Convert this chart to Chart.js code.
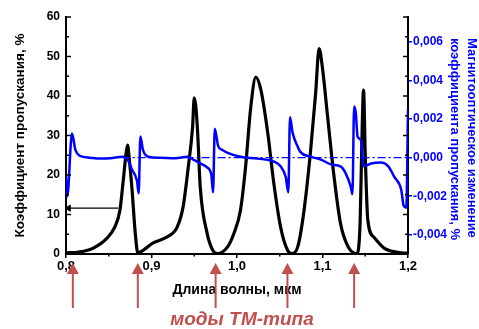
<!DOCTYPE html>
<html><head><meta charset="utf-8">
<script src="https://cdn.jsdelivr.net/npm/chart.js@4"></script>
<style>html,body{margin:0;padding:0;background:#fff;overflow:hidden}</style>
</head><body>
<canvas id="c" width="479" height="329" style="width:479px;height:329px;display:block"></canvas>
<script>
// Transmission (left axis, %)
const wavelengthT = [0.800,0.815,0.832,0.848,0.857,0.863,0.867,0.870,0.872,0.874,0.877,0.881,0.884,0.887,0.902,0.918,0.930,0.937,0.943,0.948,0.950,0.952,0.954,0.957,0.965,0.972,0.977,0.989,0.996,1.004,1.010,1.016,1.022,1.028,1.036,1.043,1.051,1.059,1.064,1.071,1.078,1.086,1.092,1.096,1.100,1.106,1.113,1.121,1.130,1.137,1.140,1.144,1.146,1.148,1.150,1.153,1.160,1.172,1.192,1.200];
const transmission = [0.3,0.5,1.5,4,6.8,11,18.7,25,27.6,24,17,5.3,0.3,0.5,2.8,4.3,6.8,12,22,32,39.5,37,30.6,17,5.3,0.8,0.1,1.8,5,11,22,37,44.8,41.5,30.6,18,6.8,1,0.1,1.8,10.4,26,40.8,52,47,34.7,20.5,7.8,1.8,0.2,0.1,8,28,41.5,25,8.6,4.3,1.5,0.3,0.2];
// Magneto-optical change (right axis)
const wavelengthMO = [0.800,0.8015,0.807,0.811,0.816,0.828,0.840,0.852,0.866,0.872,0.877,0.883,0.885,0.887,0.890,0.896,0.910,0.928,0.942,0.949,0.957,0.965,0.970,0.972,0.974,0.978,0.983,0.989,1.004,1.024,1.043,1.051,1.057,1.060,1.062,1.065,1.071,1.074,1.086,1.098,1.110,1.121,1.127,1.133,1.135,1.137,1.139,1.141,1.145,1.148,1.157,1.168,1.177,1.184,1.192,1.195,1.198,1.200];
const moChange = [-0.0010,-0.0020,0.00125,0.0004,0.0001,0.0000,-0.00005,-0.00003,0.00005,-0.0001,-0.0006,-0.0012,-0.00185,0.0011,0.0004,0.00005,0.0000,-0.00003,0.00005,-0.0001,-0.0003,-0.0005,-0.0009,-0.0018,0.0015,0.0006,0.0004,0.00025,0.00005,-0.00005,-0.0002,-0.00045,-0.0010,-0.0018,0.0021,0.0013,0.00057,0.0003,0.00005,-0.0001,-0.00035,-0.00045,-0.0008,-0.0015,-0.0019,0.00265,0.0023,0.0011,0.0009,-0.00045,-0.0003,-0.00025,-0.00045,-0.0010,-0.00165,-0.0025,-0.0026,0.0025];
// zero reference (dash-dot) and left pointer
const refLineWl = [0.865,1.200];
const refLineVal = [0,0];
const pointerWl = [0.803,0.861];
const pointerVal = [11.6,11.6];
// TM modes
const modeWavelengths = [0.808,0.884,0.975,1.059,1.137];
// ticks
const xTicks = [0.8,0.9,1.0,1.1,1.2];
const leftTicks = [0,10,20,30,40,50,60];
const rightTicks = [-0.004,-0.002,0,0.002,0.004,0.006];
const xTitle = 'Длина волны, мкм';
const leftTitle = 'Коэффициент пропускания, %';
const rightTitle = ['Магнитооптическое изменение','коэффициента пропускания, %'];
const modeLabel = 'моды ТМ-типа';

const pts = (xs, ys) => xs.map((v,i)=>({x:v,y:ys[i]}));
const FONT = '"Liberation Sans", Arial, sans-serif';
const BLUE = '#0000ff';
const RED = '#c0504d';

const decor = {
  id:'decor',
  afterDraw(chart){
    const {ctx, chartArea:a, scales:{x,y}} = chart;
    ctx.save();
    const line=(x1,y1,x2,y2)=>{ctx.beginPath();ctx.moveTo(x1,y1);ctx.lineTo(x2,y2);ctx.stroke();};
    ctx.strokeStyle='#000'; ctx.lineWidth=1.5;
    // inward ticks on left axis and right frame (major + minor)
    const yt=[];
    for(let i=0;i<leftTicks.length;i++){ yt.push([leftTicks[i],5]); if(i<leftTicks.length-1) yt.push([(leftTicks[i]+leftTicks[i+1])/2,3]); }
    yt.forEach(([v,len])=>{const py=y.getPixelForValue(v); line(a.left,py,a.left+len,py); line(a.right-len,py,a.right,py);});
    // minor x ticks
    for(let i=0;i<xTicks.length-1;i++){const px=x.getPixelForValue((xTicks[i]+xTicks[i+1])/2); line(px,a.bottom,px,a.bottom+2.5);}
    // mode arrows
    ctx.strokeStyle=RED; ctx.fillStyle=RED; ctx.lineWidth=2;
    modeWavelengths.forEach(m=>{
      const px=x.getPixelForValue(m);
      line(px,308,px,271);
      ctx.beginPath(); ctx.moveTo(px,263); ctx.lineTo(px-6,274); ctx.lineTo(px+6,274); ctx.closePath(); ctx.fill();
    });
    // mode label
    ctx.font='italic bold 19px '+FONT; ctx.textAlign='center'; ctx.textBaseline='middle';
    ctx.fillText(modeLabel,242,320);
    // right axis title (two lines, rotated)
    ctx.fillStyle=BLUE; ctx.font='bold 13px '+FONT; ctx.textAlign='left';
    [[472,rightTitle[0]],[455,rightTitle[1]]].forEach(([tx,t])=>{
      ctx.save(); ctx.translate(tx,38); ctx.rotate(Math.PI/2); ctx.fillText(t,0,0); ctx.restore();
    });
    ctx.restore();
  }
};

new Chart(document.getElementById('c'),{
  type:'line',
  data:{datasets:[
    {label:'T', data:pts(wavelengthT,transmission), yAxisID:'y', borderColor:'#000', borderWidth:3.2, pointRadius:0, cubicInterpolationMode:'monotone', order:2},
    {label:'MO', data:pts(wavelengthMO,moChange), yAxisID:'y2', borderColor:BLUE, borderWidth:2.5, pointRadius:0, cubicInterpolationMode:'monotone', order:1},
    {label:'zero', data:pts(refLineWl,refLineVal), yAxisID:'y2', borderColor:BLUE, borderWidth:1.3, borderDash:[8,3,2,3], pointRadius:0, order:1},
    {label:'ptr', data:pts(pointerWl,pointerVal), yAxisID:'y', borderColor:'#000', borderWidth:1.2, backgroundColor:'#000', pointStyle:'triangle', pointRotation:[270,0], pointRadius:[3.5,0], pointBorderWidth:1, order:3}
  ]},
  options:{
    responsive:false, animation:false, devicePixelRatio:1,
    layout:{padding:{top:17,left:0,right:0,bottom:0}},
    plugins:{legend:{display:false}, tooltip:{enabled:false}},
    elements:{line:{fill:false}},
    scales:{
      x:{type:'linear', position:'bottom', min:0.8, max:1.2,
        afterBuildTicks:s=>{s.ticks=xTicks.map(v=>({value:v}));},
        ticks:{callback:v=>v.toFixed(1).replace('.',','), font:{family:FONT,weight:'bold',size:13}, color:'#000', padding:1, maxRotation:0, autoSkip:false},
        grid:{display:true, drawOnChartArea:false, drawTicks:true, tickLength:4, color:'#000', lineWidth:1.5},
        border:{display:true, color:'#000', width:2},
        title:{display:true, text:xTitle, font:{family:FONT,weight:'bold',size:14}, color:'#000', padding:{top:0,bottom:30}},
        afterFit:s=>{s.height=75;}
      },
      y:{type:'linear', position:'left', min:0, max:60,
        afterBuildTicks:s=>{s.ticks=leftTicks.map(v=>({value:v}));},
        ticks:{font:{family:FONT,weight:'bold',size:12}, color:'#000', padding:6},
        grid:{display:false, drawTicks:false},
        border:{display:true, color:'#000', width:2},
        title:{display:true, text:leftTitle, font:{family:FONT,weight:'bold',size:13.5}, color:'#000', padding:{top:12,bottom:0}},
        afterFit:s=>{s.width=66;}
      },
      y2:{type:'linear', position:'right', min:-0.005, max:0.0073,
        afterBuildTicks:s=>{s.ticks=rightTicks.map(v=>({value:v}));},
        ticks:{callback:v=>(Math.abs(v)<1e-9?'0,000':v.toFixed(3).replace('.',',')), font:{family:FONT,weight:'bold',size:12}, color:BLUE, padding:1},
        grid:{display:true, drawOnChartArea:false, drawTicks:true, tickLength:4, color:BLUE, lineWidth:1.5},
        border:{display:true, color:'#000', width:2},
        afterFit:s=>{s.width=71;}
      }
    }
  },
  plugins:[decor]
});
</script>
</body></html>
